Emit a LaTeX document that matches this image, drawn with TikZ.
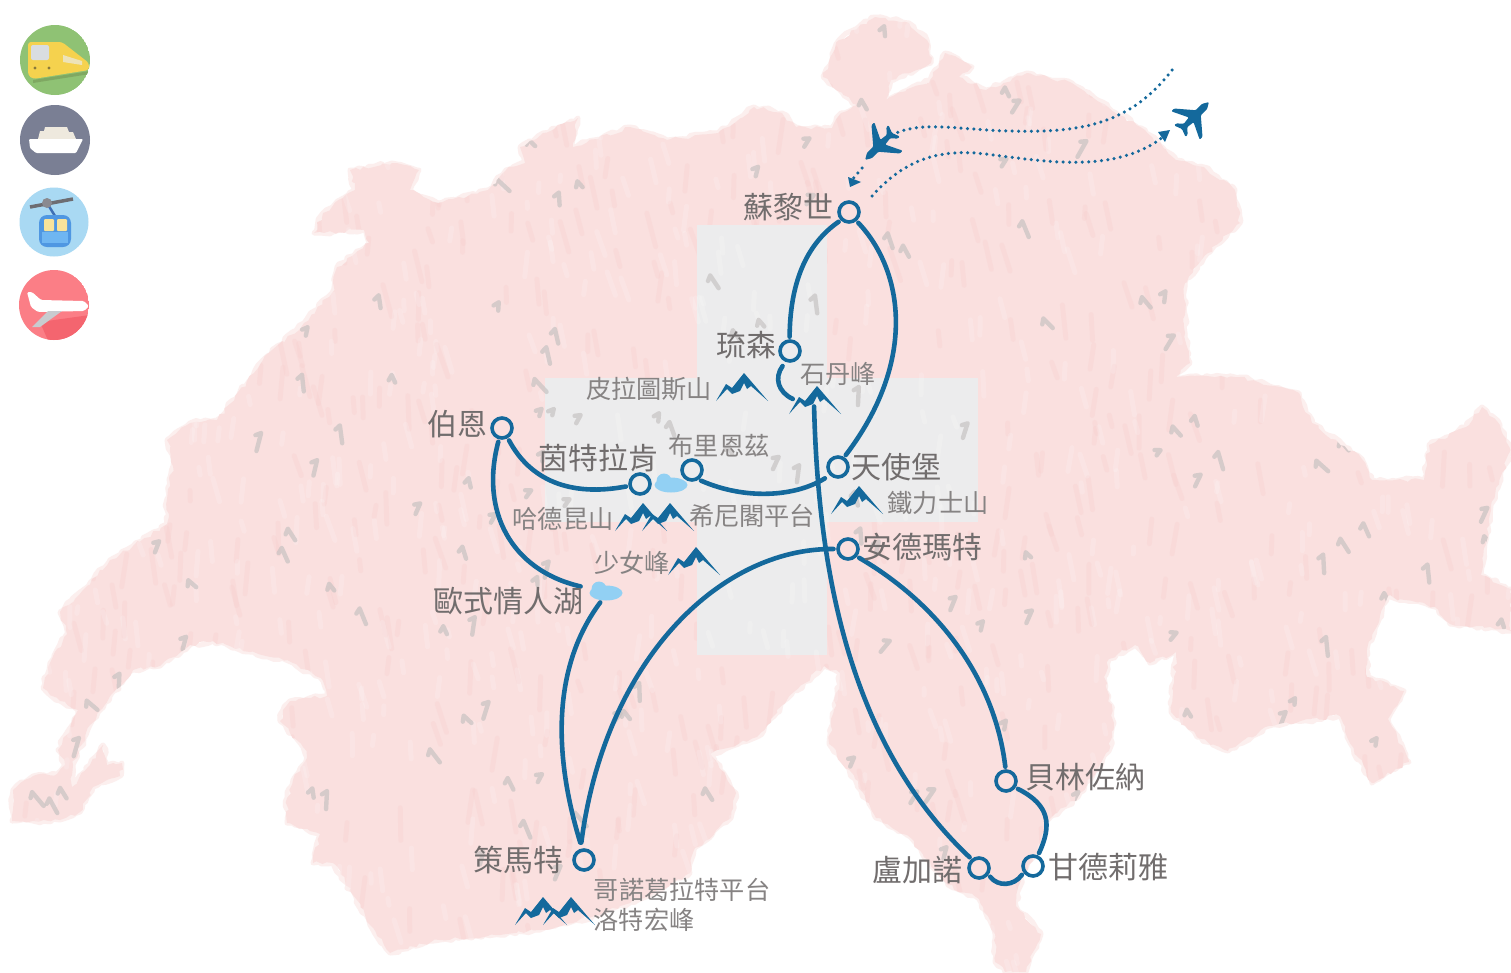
\documentclass[tikz,border=0pt]{standalone}
\usepackage{fontspec}
\setmainfont{Noto Sans CJK TC}
\usetikzlibrary{decorations.pathmorphing,arrows.meta,shapes.geometric}
\definecolor{routeblue}{HTML}{14699C}
\definecolor{mappink}{HTML}{FAE0DF}
\definecolor{mapedge}{HTML}{FCEFEE}
\definecolor{lakeblue}{HTML}{92D0F3}
\definecolor{labelgrey}{HTML}{716D6D}
\definecolor{pinkdark}{HTML}{F7C9C8}
\definecolor{crossgrey}{HTML}{ECECED}
\definecolor{fleck}{HTML}{C4C0C0}
\definecolor{icongreen}{HTML}{8FC274}
\definecolor{greendark}{HTML}{7FA862}
\definecolor{trainyellow}{HTML}{F5D24E}
\definecolor{trainglass}{HTML}{D9DDE0}
\definecolor{trainside}{HTML}{EDE3B8}
\definecolor{trainlamp}{HTML}{8A7A3A}
\definecolor{iconslate}{HTML}{7A7F94}
\definecolor{shipcream}{HTML}{EEE9DE}
\definecolor{iconsky}{HTML}{A9D9F3}
\definecolor{cablegrey}{HTML}{6D6D72}
\definecolor{hangerblue}{HTML}{3E6FB5}
\definecolor{hubgrey}{HTML}{8A8A90}
\definecolor{cabinblue}{HTML}{4F97E2}
\definecolor{cabinlight}{HTML}{6FB6F2}
\definecolor{cabinglass}{HTML}{F8E39A}
\definecolor{iconred}{HTML}{FB7E86}
\definecolor{reddark}{HTML}{F4656F}
\definecolor{wing}{HTML}{C8CBCF}
\newcommand{\mapoutline}{(12,821)--(13,790)--(33,776)--(57,774)--(65,765)--(58,750)--(70,728)--(78,710)--(60,701)--(43,688)--(50,663)--(67,634)--(60,612)--(83,590)--(110,560)--(133,546)--(167,524)--(167,499)--(173,466)--(167,440)--(171,437)--(190,423)--(217,420)--(254,373)--(263,360)--(304,323)--(332,293)--(337,267)--(369,243)--(364,230)--(314,233)--(323,213)--(355,190)--(350,170)--(392,163)--(419,170)--(410,190)--(438,203)--(488,190)--(506,170)--(525,163)--(520,147)--(543,133)--(578,118)--(573,147)--(630,127)--(667,140)--(718,133)--(754,107)--(782,113)--(796,127)--(832,128)--(841,113)--(857,105)--(823,77)--(839,40)--(875,17)--(909,23)--(927,40)--(931,63)--(891,80)--(886,100)--(930,80)--(945,53)--(972,67)--(959,77)--(986,90)--(1027,73)--(1072,83)--(1108,107)--(1145,130)--(1176,160)--(1204,167)--(1235,190)--(1240,223)--(1208,253)--(1185,283)--(1185,333)--(1190,363)--(1176,377)--(1240,377)--(1299,393)--(1312,423)--(1362,459)--(1372,480)--(1424,480)--(1429,445)--(1466,427)--(1482,407)--(1500,425)--(1511,450)--(1491,505)--(1481,575)--(1511,589)--(1511,631)--(1450,624)--(1435,607)--(1388,596)--(1367,649)--(1367,677)--(1404,691)--(1388,719)--(1409,762)--(1372,783)--(1347,737)--(1340,716)--(1269,726)--(1228,751)--(1197,737)--(1171,712)--(1176,652)--(1150,663)--(1135,645)--(1109,659)--(1104,677)--(1114,723)--(1109,751)--(1078,797)--(1047,821)--(1041,842)--(1021,878)--(1016,906)--(1041,934)--(1026,972)--(1005,972)--(995,962)--(995,934)--(979,899)--(948,885)--(907,835)--(876,818)--(855,779)--(829,744)--(840,673)--(824,666)--(788,698)--(757,737)--(710,754)--(736,793)--(731,818)--(694,850)--(690,873)--(653,893)--(600,915)--(540,930)--(500,935)--(440,940)--(390,953)--(370,925)--(357,900)--(333,863)--(313,863)--(320,834)--(287,823)--(287,798)--(293,780)--(307,758)--(303,747)--(280,721)--(283,710)--(290,701)--(327,696)--(323,681)--(293,663)--(250,652)--(213,641)--(190,645)--(160,666)--(133,670)--(110,696)--(90,725)--(73,765)--(72,787)--(90,765)--(103,745)--(107,765)--(122,763)--(120,776)--(93,787)--(80,812)--(60,820)--(33,821)--cycle}
\tikzset{
  stop/.style={circle,draw=routeblue,line width=3.6pt,minimum size=20pt,inner sep=0pt},
  route/.style={draw=routeblue,line width=4.6pt,line cap=round,shorten <=2.5pt,shorten >=2.5pt},
  flight/.style={draw=routeblue,line width=3.5pt,line cap=round,dash pattern=on 0pt off 6.4pt},
  bigl/.style={text=labelgrey,inner sep=0pt,font=\fontsize{30}{32}\selectfont},
  smalll/.style={text=labelgrey!85!white,inner sep=0pt,font=\fontsize{25.2}{27}\selectfont},
  lake/.style={ellipse,fill=lakeblue,inner sep=0pt,minimum width=33pt,minimum height=15pt},
  mtn/.pic={\fill[routeblue] (0,28)--(10,11)--(16,15)--(28,0)--(52,28)--(35,13)--(31,16)--(28,10)--(24,18)--(16,21)--(11,16)--cycle;},
  aircraft/.pic={\fill[routeblue,rounded corners=1pt] (0,-21)--(3.6,-15)--(3.6,-6)--(20,8)--(20,12)--(3.4,4)--(2.4,12)--(8,17)--(8,20)--(0,17)--(-8,20)--(-8,17)--(-2.4,12)--(-3.4,4)--(-20,12)--(-20,8)--(-3.6,-6)--(-3.6,-15)--cycle;}
}
\begin{document}
\begin{tikzpicture}[x=1pt,y=-1pt]
\useasboundingbox (0,0) rectangle (1511,972);
\fill[white] (0,0) rectangle (1511,972);
% map
\pgfmathsetseed{21}
\draw[mapedge,line width=5pt,line join=round,decorate,decoration={random steps,segment length=5pt,amplitude=2pt}] \mapoutline;
\begin{scope}
\pgfmathsetseed{11}
\path[clip,decorate,decoration={random steps,segment length=5pt,amplitude=2pt}] \mapoutline;
\fill[mappink] (0,0) rectangle (1511,972);
\foreach \i in {1,...,700}{
  \pgfmathsetmacro{\xb}{rnd*1511}\pgfmathsetmacro{\yb}{rnd*972}\pgfmathsetmacro{\an}{70+rnd*30}\pgfmathsetmacro{\ln}{10+rnd*25}
  \draw[pinkdark,opacity=.22,line width=5pt,line cap=round] (\xb,\yb) -- ++(\an:\ln);
}
\fill[crossgrey] (697,225) rectangle (827,655);
\fill[crossgrey] (545,378) rectangle (978,522);
\foreach \i in {1,...,800}{
  \pgfmathsetmacro{\xa}{rnd*1511}\pgfmathsetmacro{\ya}{rnd*972}\pgfmathsetmacro{\an}{70+rnd*30}\pgfmathsetmacro{\ln}{6+rnd*20}
  \draw[white,opacity=.16,line width=5pt,line cap=round] (\xa,\ya) -- ++(\an:\ln);
}
\foreach \i in {1,...,200}{
  \pgfmathsetmacro{\xa}{rnd*1511}\pgfmathsetmacro{\ya}{rnd*972}\pgfmathsetmacro{\an}{40+rnd*90}\pgfmathsetmacro{\ln}{6+rnd*13}\pgfmathsetmacro{\bn}{\an+55}
  \draw[fleck,opacity=.65,line width=4.4pt,line cap=round] (\xa,\ya) -- ++(\an:\ln) (\xa,\ya) -- ++(\bn:6);
}
\end{scope}
% lakes
\node[lake] (lakeI) at (671,485) {};
\fill[lakeblue] (664,481) circle[radius=7.5];
\node[lake] (lakeO) at (606,593) {};
\fill[lakeblue] (599,589) circle[radius=7.5];
% mountains
\pic at (716,373) {mtn};
\pic at (789,386) {mtn};
\pic at (831,486) {mtn};
\pic at (615,503) {mtn};
\pic at (642,503) {mtn};
\pic at (668,547) {mtn};
\pic at (515,897) {mtn};
\pic at (543,897) {mtn};
% stops
\node[stop] (zh) at (849,212) {};
\node[stop] (lu) at (790,351) {};
\node[stop] (be) at (502,428) {};
\node[stop] (il) at (640,484) {};
\node[stop] (br) at (692,470) {};
\node[stop] (en) at (838,467) {};
\node[stop] (an) at (848,549) {};
\node[stop] (ze) at (584,860) {};
\node[stop] (bl) at (1006,781) {};
\node[stop] (lg) at (979,868) {};
\node[stop] (ga) at (1033,866) {};
\coordinate (stA) at (784,364);
\coordinate (stB) at (795,400);
\coordinate (stC) at (814,404);
\coordinate (ztS) at (581,845);
\coordinate (crossA) at (827,477);
\coordinate (crossB) at (836,549);
\coordinate (lakeOin) at (583,587);
% routes
\draw[route] (zh.-135) .. controls (805,245) and (790,285) .. (lu.92);
\draw[route] (zh.-50) .. controls (903,270) and (918,360) .. (en.58);
\draw[route] (stA) .. controls (774,378) and (778,392) .. (stB);
\draw[route] (stC) .. controls (818,560) and (845,740) .. (lg.130);
\draw[route] (be.-60) .. controls (530,480) and (570,497) .. (il.190);
\draw[route] (be.-105) .. controls (480,510) and (510,570) .. (lakeOin);
\draw[route] (br.-55) .. controls (745,500) and (795,497) .. (crossA);
\draw[route] (lakeO.-120) .. controls (550,670) and (555,760) .. (ztS);
\draw[route] (crossB) .. controls (720,548) and (605,660) .. (ztS);
\draw[route] (an.-40) .. controls (940,605) and (995,680) .. (bl.92);
\draw[route] (bl.-35) .. controls (1050,805) and (1052,825) .. (ga.65);
\draw[route] (lg.-35) .. controls (998,887) and (1014,886) .. (ga.-145);
% flights
\coordinate (fa) at (1172,70);\coordinate (fb) at (1010,131);\coordinate (fc) at (892,135);
\coordinate (fd) at (862,168);\coordinate (fe) at (852,180);
\coordinate (ff) at (872,196);\coordinate (fg) at (975,153);\coordinate (fh) at (1163,137);
\draw[flight] (fa) .. controls (1130,125) and (1080,133) .. (fb) .. controls (960,130) and (920,120) .. (fc);
\draw[flight] (fd) -- (fe);
\draw[flight] (ff) .. controls (900,165) and (930,150) .. (fg) .. controls (1030,158) and (1110,178) .. (fh);
\fill[routeblue] (848,177) -- (861,182) -- (850,187) -- cycle;
\fill[routeblue] (1158,132) -- (1170,130) -- (1165,142) -- cycle;
\pic[rotate=135] at (880,145) {aircraft};
\pic[rotate=-45] at (1194,117) {aircraft};
% labels
\node[bigl] (t1) at (788,207) {蘇黎世};
\node[bigl] (t2) at (746,345) {琉森};
\node[bigl] (t3) at (457,424) {伯恩};
\node[bigl] (t4) at (598,458) {茵特拉肯};
\node[bigl] (t5) at (896,467) {天使堡};
\node[bigl] (t6) at (922,547) {安德瑪特};
\node[bigl] (t7) at (508,601) {歐式情人湖};
\node[bigl] (t8) at (518,860) {策馬特};
\node[bigl] (t9) at (1085,777) {貝林佐納};
\node[bigl] (t10) at (917,870) {盧加諾};
\node[bigl] (t11) at (1108,867) {甘德莉雅};
\node[smalll] (s1) at (838,374) {石丹峰};
\node[smalll] (s2) at (649,389) {皮拉圖斯山};
\node[smalll] (s3) at (719,446) {布里恩茲};
\node[smalll] (s4) at (938,503) {鐵力士山};
\node[smalll] (s5) at (563,519) {哈德昆山};
\node[smalll] (s6) at (752,516) {希尼閣平台};
\node[smalll] (s7) at (632,563) {少女峰};
\node[smalll] (s8) at (682,890) {哥諾葛拉特平台};
\node[smalll] (s9) at (644,920) {洛特宏峰};
% icons
\begin{scope}
\clip (55,60) circle[radius=35];
\fill[icongreen] (55,60) circle[radius=35];
\fill[greendark] (33,80) -- (90,71) -- (90,74) -- (33,83) -- cycle;
\fill[trainyellow,rounded corners=3pt] (28,42) -- (62,42) -- (89,63) -- (89,70) -- (33,79) -- (28,75) -- cycle;
\fill[trainglass,rounded corners=2pt] (31,45) rectangle (49,60);
\fill[trainside] (63,55) -- (82,61) -- (82,65) -- (63,62) -- cycle;
\fill[trainlamp] (35,68) circle[radius=1.7] (49,68) circle[radius=1.7];
\end{scope}
\fill[iconslate] (55,140) circle[radius=35];
\fill[shipcream] (38,139) -- (40,131) -- (44,131) -- (45,127) -- (67,127) -- (69,132) -- (73,132) -- (76,139) -- cycle;
\fill[white,rounded corners=1pt] (29,139) -- (83,139) -- (76,153) -- (36,153) -- (30,148) -- cycle;
\begin{scope}
\fill[iconsky] (54,222) circle[radius=34.5];
\draw[cablegrey,line width=3.5pt] (30,207) -- (73,199);
\draw[hangerblue,line width=2.5pt] (47,203) -- (55,216);
\fill[hubgrey] (47,203) circle[radius=5];
\fill[cabinblue,rounded corners=8pt] (39,215) rectangle (71,247);
\fill[cabinlight] (42,232) rectangle (68,243);
\fill[cabinglass,rounded corners=1pt] (44,219) rectangle (54,231) (57,219) rectangle (67,231);
\end{scope}
\begin{scope}
\clip (54,305) circle[radius=35];
\fill[iconred] (54,305) circle[radius=35];
\fill[reddark] (40,322) -- (90,315) -- (90,345) -- (50,345) -- cycle;
\fill[white,rounded corners=1.5pt] (27,292) -- (32,292) -- (41,300) -- (84,301) -- (89,306) -- (84,311) -- (38,312) -- (31,307) -- cycle;
\fill[wing] (48,311) -- (62,311) -- (40,327) -- (32,327) -- cycle;
\end{scope}
\end{tikzpicture}
\end{document}
